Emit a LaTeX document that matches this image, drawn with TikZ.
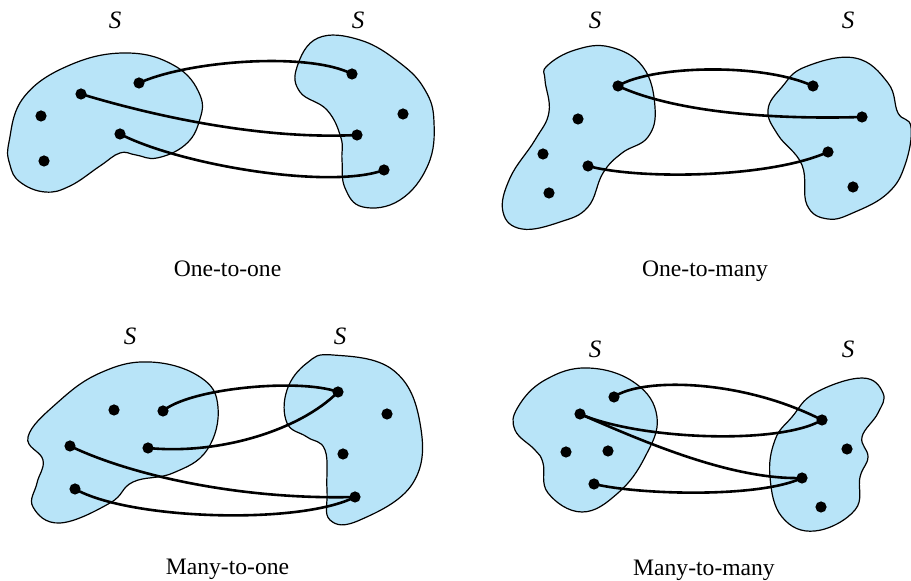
\documentclass[tikz,border=0pt]{standalone}
\usepackage{fontspec}
\setmainfont{Liberation Serif}
\definecolor{blobfill}{RGB}{184,228,248}
\begin{document}
\begin{tikzpicture}[x=0.5pt,y=-0.5pt,
  blob/.style={draw=black,line width=0.6pt,fill=blobfill},
  pnt/.style={circle,fill=black,inner sep=0pt,minimum size=5.6pt},
  link/.style={draw=black,line width=1.3pt},
  lab/.style={anchor=base,font=\fontsize{11.8}{14}\selectfont},
  setlab/.style={anchor=base,font=\fontsize{12.5}{14}\selectfont\itshape}]
\useasboundingbox (0,0) rectangle (911,581);

% ---------- Panel 1: One-to-one ----------
\draw[blob] plot[smooth cycle,tension=0.7] coordinates {(9,142) (24,97) (70,65) (127,53) (175,66) (200,95) (199,122) (185,145) (157,158) (136,155) (120,153) (100,166) (70,186) (45,192) (20,182) (10,165)};
\draw[blob] plot[smooth cycle,tension=0.7] coordinates {(297,67) (318,38) (360,40) (400,63) (425,90) (434,122) (428,165) (400,200) (363,207) (345,188) (342,160) (341,138) (327,110) (300,92)};
\node[pnt] (a1) at (139,83) {};
\node[pnt] (a2) at (81,94) {};
\node[pnt] (a3) at (41,116) {};
\node[pnt] (a4) at (120,134) {};
\node[pnt] (a5) at (44,161) {};
\node[pnt] (b1) at (352,74) {};
\node[pnt] (b2) at (403,114) {};
\node[pnt] (b3) at (357,135) {};
\node[pnt] (b4) at (384,170) {};
\draw[link] (a1.center) .. controls (190,60) and (310,52) .. (b1.center);
\draw[link] (a2.center) .. controls (150,115) and (260,140) .. (b3.center);
\draw[link] (a4.center) .. controls (180,165) and (330,190) .. (b4.center);
\node[setlab] (s1a) at (115,29) {S};
\node[setlab] (s1b) at (358,29) {S};
\node[lab] (t1) at (227.5,277) {One-to-one};

% ---------- Panel 2: One-to-many ----------
\draw[blob] plot[smooth cycle,tension=0.7] coordinates {(547,66) (575,50) (610,47) (643,67) (655,107) (648,137) (622,153) (603,173) (588,207) (560,222) (522,229) (503,212) (510,178) (535,140) (549,112) (545,80)};
\draw[blob] plot[smooth cycle,tension=0.7] coordinates {(805,67) (855,58) (888,83) (898,113) (911,127) (905,165) (888,193) (855,212) (828,219) (807,205) (802,165) (778,135) (768,110) (782,87)};
\node[pnt] (c1) at (618,86) {};
\node[pnt] (c2) at (578,119) {};
\node[pnt] (c3) at (543,154) {};
\node[pnt] (c4) at (588,166) {};
\node[pnt] (c5) at (549,193) {};
\node[pnt] (d1) at (813,86) {};
\node[pnt] (d2) at (862,117) {};
\node[pnt] (d3) at (828,152) {};
\node[pnt] (d4) at (853,187) {};
\draw[link] (c1.center) .. controls (650,66) and (760,62) .. (d1.center);
\draw[link] (c1.center) .. controls (670,110) and (760,120) .. (d2.center);
\draw[link] (c4.center) .. controls (640,180) and (770,178) .. (d3.center);
\node[setlab] (s2a) at (595,29) {S};
\node[setlab] (s2b) at (848,29) {S};
\node[lab] (t2) at (705,277) {One-to-many};

% ---------- Panel 3: Many-to-one ----------
\draw[blob] plot[smooth cycle,tension=0.7] coordinates {(100,373) (150,362) (200,377) (218,407) (207,450) (173,473) (133,482) (110,503) (60,523) (33,507) (37,483) (43,460) (28,437) (57,403)};
\draw[blob] plot[smooth cycle,tension=0.7] coordinates {(333,355) (393,370) (420,423) (413,483) (360,520) (330,520) (327,490) (325,450) (307,437) (287,423) (287,390) (307,363)};
\node[pnt] (e1) at (114,410) {};
\node[pnt] (e2) at (163,411) {};
\node[pnt] (e3) at (70,446) {};
\node[pnt] (e4) at (148,448) {};
\node[pnt] (e5) at (75,489) {};
\node[pnt] (g1) at (338,392) {};
\node[pnt] (g2) at (387,414) {};
\node[pnt] (g3) at (343,454) {};
\node[pnt] (g4) at (355,497) {};
\draw[link] (e2.center) .. controls (190,388) and (300,378) .. (g1.center);
\draw[link] (e4.center) .. controls (220,455) and (300,430) .. (g1.center);
\draw[link] (e3.center) .. controls (130,475) and (240,500) .. (g4.center);
\draw[link] (e5.center) .. controls (130,520) and (300,525) .. (g4.center);
\node[setlab] (s3a) at (130,345) {S};
\node[setlab] (s3b) at (340,345) {S};
\node[lab] (t3) at (227.5,575) {Many-to-one};

% ---------- Panel 4: Many-to-many ----------
\draw[blob] plot[smooth cycle,tension=0.7] coordinates {(588,368) (635,383) (657,417) (645,457) (618,493) (582,512) (548,493) (543,463) (535,450) (515,430) (518,407) (545,380)};
\draw[blob] plot[smooth cycle,tension=0.7] coordinates {(862,378) (883,393) (878,413) (862,437) (868,457) (860,477) (855,510) (815,531) (782,517) (770,477) (775,440) (792,417) (815,393)};
\node[pnt] (h1) at (614,397) {};
\node[pnt] (h2) at (580,414) {};
\node[pnt] (h3) at (566,452) {};
\node[pnt] (h4) at (608,451) {};
\node[pnt] (h5) at (594,484) {};
\node[pnt] (k1) at (822,420) {};
\node[pnt] (k2) at (847,449) {};
\node[pnt] (k3) at (802,478) {};
\node[pnt] (k4) at (821,507) {};
\draw[link] (h1.center) .. controls (640,378) and (740,378) .. (k1.center);
\draw[link] (h2.center) .. controls (640,440) and (780,445) .. (k1.center);
\draw[link] (h2.center) .. controls (640,440) and (730,480) .. (k3.center);
\draw[link] (h5.center) .. controls (640,495) and (760,498) .. (k3.center);
\node[setlab] (s4a) at (595,358) {S};
\node[setlab] (s4b) at (848,358) {S};
\node[lab] (t4) at (704,576) {Many-to-many};
\end{tikzpicture}
\end{document}
